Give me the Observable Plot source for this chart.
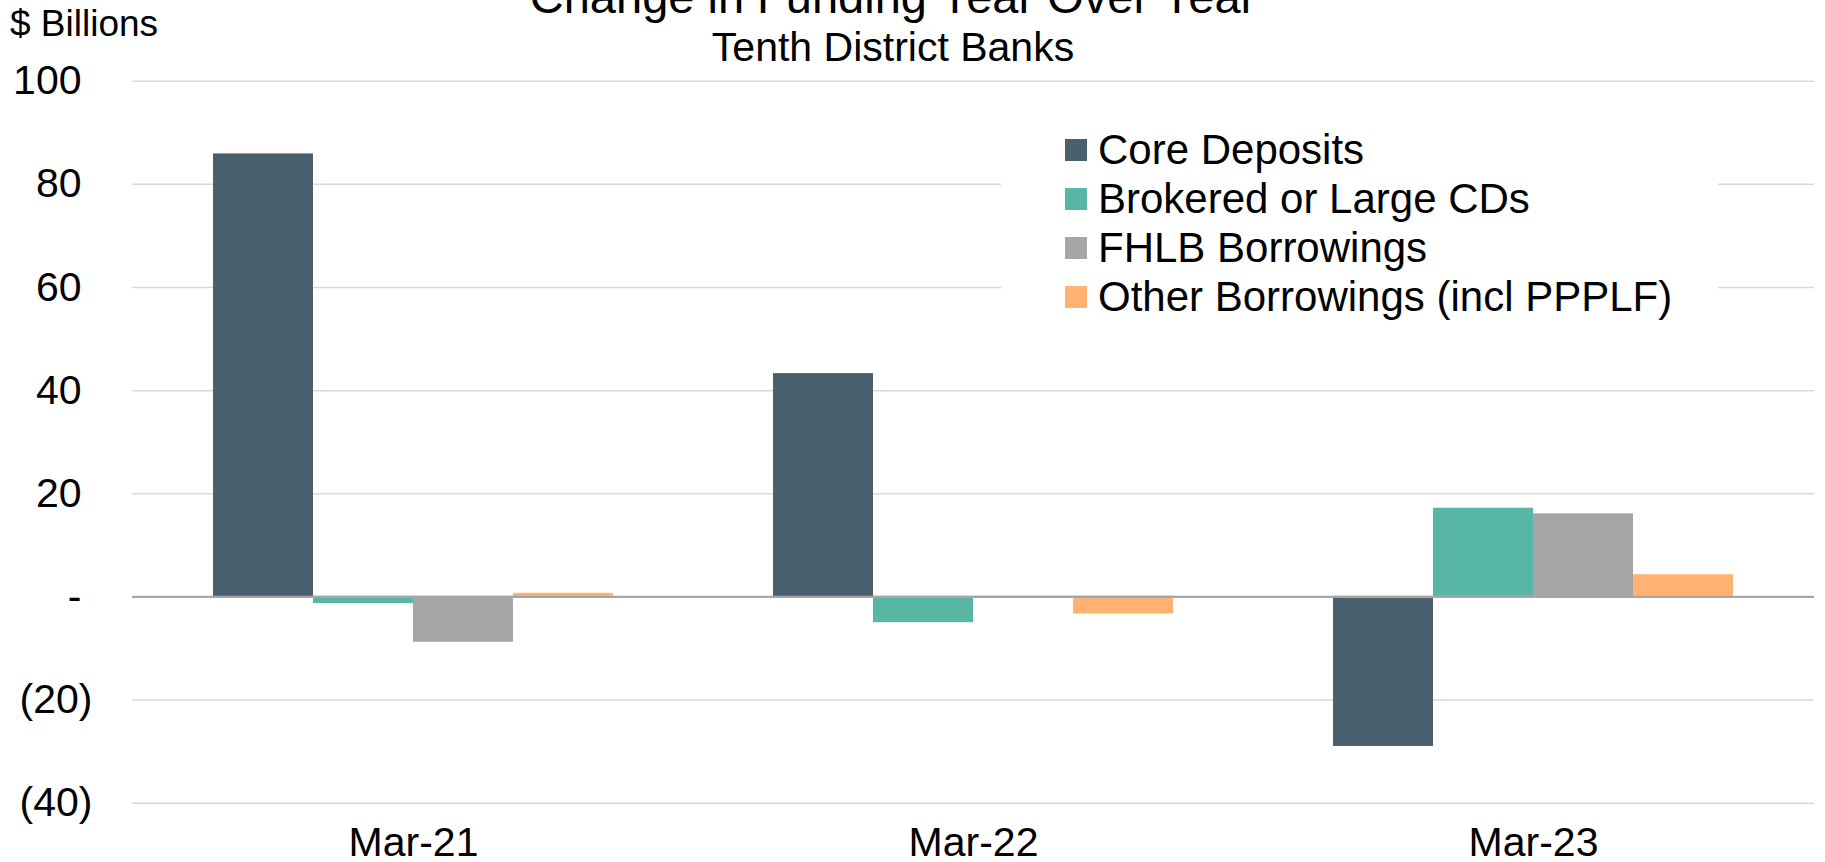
<!DOCTYPE html>
<html>
<head>
<meta charset="utf-8">
<script src="https://cdn.jsdelivr.net/npm/d3@7"></script>
<script src="https://cdn.jsdelivr.net/npm/@observablehq/plot@0.6"></script>
<style>
  html, body { margin: 0; padding: 0; background: #fff; overflow: hidden; }
  #wrap { position: relative; width: 1825px; height: 862px; font-family: "Liberation Sans", Arial, sans-serif; color: #000; }
  #wrap > svg { position: absolute; left: 0; top: 0; }
  .ttl { position: absolute; text-align: center; white-space: nowrap; }
  #title { left: 393px; width: 1000px; top: -27px; font-size: 47px; line-height: 47px; }
  #subtitle { left: 393px; width: 1000px; top: 27px; font-size: 41px; line-height: 41px; }
  #unit { left: 10px; top: 5px; font-size: 37px; line-height: 37px; text-align: left; }
  #legend { position: absolute; left: 1001px; top: 100px; width: 717px; box-sizing: border-box;
            padding: 26px 0 10px 64px; background: #fff; }
  #legend > div { font-family: "Liberation Sans", Arial, sans-serif !important; font-size: 42px !important;
                  margin: 0 !important; color: #000 !important; }
  #legend > div > div { line-height: 48px !important; padding-bottom: 1px; }
  #legend svg { margin-right: 11px !important; }
</style>
</head>
<body>
<div id="wrap">
  <div id="title" class="ttl">Change in Funding Year Over Year</div>
  <div id="subtitle" class="ttl">Tenth District Banks</div>
  <div id="unit" class="ttl">$ Billions</div>
  <div id="legend"></div>
</div>
<script>
// ---- data ----
const categories = ["Mar-21", "Mar-22", "Mar-23"];
const seriesNames = ["Core Deposits", "Brokered or Large CDs", "FHLB Borrowings", "Other Borrowings (incl PPPLF)"];
const coreDeposits = [85.9, 43.3, -29.0];
const brokeredCDs = [-1.3, -5.0, 17.2];
const fhlbBorrowings = [-8.8, 0, 16.1];
const otherBorrowings = [0.7, -3.3, 4.3];
const yTicks = [100, 80, 60, 40, 20, 0, -20, -40];
const seriesColors = ["#4b606e", "#58b6a4", "#a6a6a6", "#ffb274"];

const seriesValues = [coreDeposits, brokeredCDs, fhlbBorrowings, otherBorrowings];
const data = categories.flatMap((c, i) =>
  seriesNames.map((s, j) => ({category: c, series: s, value: seriesValues[j][i]})));

const fmt = d => d === 0 ? "-" : d < 0 ? `(${-d})` : `${d}`;
const font = "Liberation Sans, Arial, sans-serif";

const common = {
  width: 1825,
  height: 862,
  marginLeft: 132,
  marginRight: 11,
  marginTop: 80.7,
  marginBottom: 59.3,
  style: {fontSize: "41px", fontFamily: font, color: "#000", background: "transparent", overflow: "visible"},
  y: {domain: [-40, 100], axis: null}
};

// background layer: grid + y axis (full plot width)
const back = Plot.plot({
  ...common,
  marks: [
    Plot.ruleY(yTicks.filter(d => d !== 0), {stroke: "#d9d9d9", strokeWidth: 1.5}),
    Plot.ruleY([0], {stroke: "#a6a6a6", strokeWidth: 2.2}),
    Plot.axisY(yTicks.filter(d => d >= 0), {tickSize: 0, tickPadding: 51, tickFormat: fmt, label: null, fontSize: 41}),
    Plot.axisY(yTicks.filter(d => d < 0), {tickSize: 0, tickPadding: 40, tickFormat: fmt, label: null, fontSize: 41})
  ]
});

// bars layer: grouped bars by faceting on category
const bars = Plot.plot({
  ...common,
  fx: {domain: categories, paddingInner: 0.2855, paddingOuter: 0.1428, label: null, axis: "bottom", tickSize: 0, tickPadding: 24},
  x: {domain: seriesNames, padding: 0, axis: null},
  color: {domain: seriesNames, range: seriesColors},
  marks: [
    Plot.barY(data, {fx: "category", x: "series", y: "value", fill: "series"}),
    Plot.ruleY([0], {stroke: "#a6a6a6", strokeWidth: 2.2})
  ]
});

const wrap = document.getElementById("wrap");
wrap.insertBefore(bars, wrap.firstChild);
wrap.insertBefore(back, wrap.firstChild);

const legend = Plot.legend({
  color: {domain: seriesNames, range: seriesColors},
  legend: "swatches",
  columns: 1,
  swatchSize: 22,
  className: "lg"
});
document.getElementById("legend").appendChild(legend);
</script>
</body>
</html>
